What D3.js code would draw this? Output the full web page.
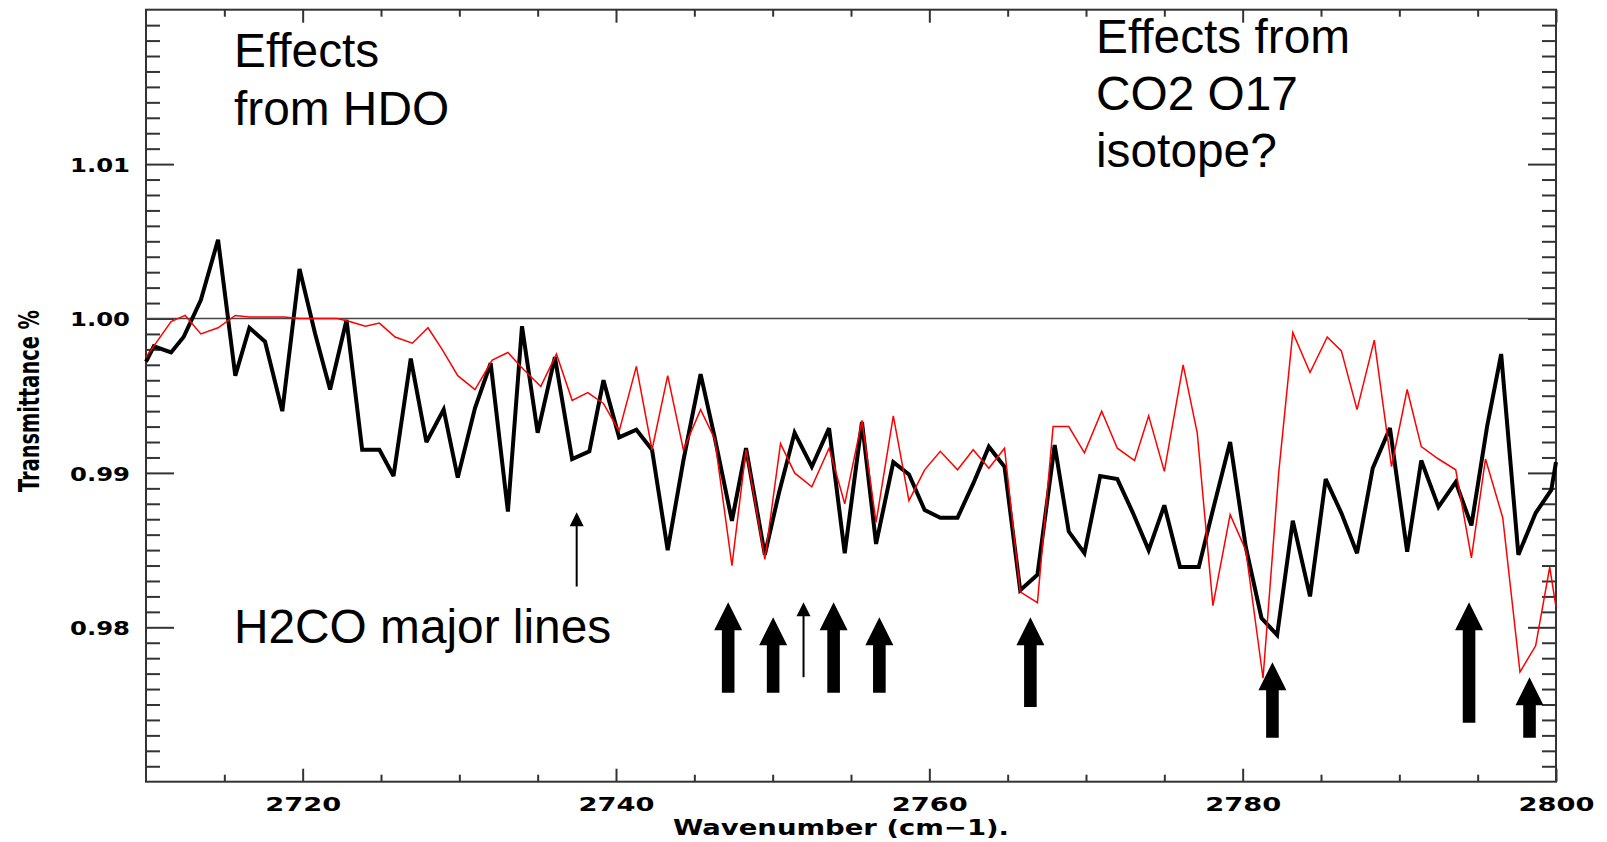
<!DOCTYPE html>
<html><head><meta charset="utf-8">
<script src="https://cdn.jsdelivr.net/npm/d3@7"></script>
<style>body{margin:0;background:#fff;} svg{display:block;}</style>
</head><body>
<svg id="chart" width="1607" height="842"></svg>
<script>
// ---------- data ----------
const wavenumberBlack = [2710.0,2710.5,2711.6,2712.4,2713.5,2714.6,2715.7,2716.6,2717.6,2718.7,2719.8,2720.8,2721.75,2722.8,2723.8,2724.9,2725.8,2726.9,2727.9,2729.0,2729.9,2731.0,2732.0,2733.1,2734.0,2735.0,2736.1,2737.2,2738.3,2739.2,2740.2,2741.3,2742.3,2743.3,2744.3,2745.4,2746.3,2747.4,2748.3,2749.5,2750.4,2751.4,2752.5,2753.6,2754.6,2755.7,2756.6,2757.7,2758.7,2759.7,2760.7,2761.8,2762.8,2763.8,2764.8,2765.8,2766.9,2768.0,2768.9,2769.9,2770.9,2772.0,2773.0,2774.0,2775.0,2776.0,2777.2,2778.1,2779.2,2780.2,2781.2,2782.2,2783.2,2784.3,2785.3,2786.3,2787.3,2788.3,2789.4,2790.5,2791.4,2792.5,2793.6,2794.6,2795.6,2796.5,2797.6,2798.7,2799.7,2800.0];
const transmittanceBlack = [0.9972,0.9982,0.9978,0.9988,1.0012,1.0051,0.9963,0.9994,0.9985,0.9940,1.0032,0.9990,0.9954,0.9999,0.9915,0.9915,0.9898,0.9974,0.9920,0.9941,0.9897,0.9942,0.9971,0.9875,0.9995,0.9926,0.9975,0.9909,0.9914,0.9960,0.9923,0.9928,0.9915,0.9850,0.9908,0.9964,0.9923,0.9869,0.9916,0.9847,0.9887,0.9926,0.9904,0.9929,0.9848,0.9933,0.9854,0.9907,0.9899,0.9876,0.9871,0.9871,0.9893,0.9917,0.9904,0.9824,0.9834,0.9918,0.9862,0.9848,0.9898,0.9896,0.9874,0.9850,0.9879,0.9839,0.9839,0.9876,0.9920,0.9852,0.9806,0.9795,0.9869,0.9820,0.9896,0.9874,0.9848,0.9903,0.9929,0.9849,0.9908,0.9878,0.9894,0.9866,0.9930,0.9977,0.9847,0.9874,0.9889,0.9907];
const wavenumberRed = [2710.0,2711.6,2712.5,2713.5,2714.6,2715.7,2716.6,2717.7,2718.8,2719.8,2720.8,2722.2,2723.0,2724.0,2724.9,2725.9,2727.0,2728.0,2728.9,2729.9,2731.0,2732.1,2733.1,2734.1,2735.2,2736.2,2737.2,2738.2,2739.2,2740.2,2741.3,2742.3,2743.3,2744.3,2745.4,2746.3,2747.4,2748.3,2749.5,2750.5,2751.4,2752.5,2753.6,2754.6,2755.7,2756.6,2757.7,2758.7,2759.7,2760.7,2761.8,2762.8,2763.8,2764.8,2765.8,2766.9,2767.9,2768.9,2769.9,2771.0,2772.0,2773.1,2774.0,2775.0,2776.2,2777.1,2778.1,2779.2,2780.2,2781.3,2782.3,2783.2,2784.3,2785.4,2786.3,2787.3,2788.4,2789.5,2790.5,2791.4,2792.5,2793.6,2794.6,2795.5,2796.6,2797.7,2798.7,2799.6,2800.0];
const transmittanceRed = [0.9975,0.9998,1.0002,0.9990,0.9994,1.0002,1.0001,1.0001,1.0001,1.0000,1.0000,1.0000,0.9998,0.9995,0.9997,0.9988,0.9984,0.9994,0.9980,0.9963,0.9954,0.9973,0.9978,0.9967,0.9956,0.9977,0.9947,0.9952,0.9945,0.9927,0.9969,0.9915,0.9963,0.9915,0.9941,0.9922,0.9840,0.9915,0.9844,0.9919,0.9900,0.9891,0.9916,0.9880,0.9934,0.9868,0.9937,0.9882,0.9902,0.9914,0.9902,0.9915,0.9903,0.9916,0.9823,0.9816,0.9930,0.9930,0.9913,0.9940,0.9916,0.9908,0.9937,0.9901,0.9970,0.9926,0.9814,0.9873,0.9850,0.9767,0.9900,0.9991,0.9965,0.9988,0.9979,0.9941,0.9986,0.9904,0.9954,0.9917,0.9909,0.9902,0.9845,0.9909,0.9871,0.9771,0.9788,0.9839,0.9813];
const xTickLabels = [2720, 2740, 2760, 2780, 2800];
const yTickLabels = [0.98, 0.99, 1.00, 1.01];
const referenceLevel = 1.00;
const xTitle = "Wavenumber (cm\u22121).";
const yTitle = "Transmittance %";
const hdoNote = ["Effects", "from HDO"];
const co2Note = ["Effects from", "CO2 O17", "isotope?"];
const h2coNote = "H2CO major lines";
// arrows (data units: wavenumber, tip transmittance, tail transmittance)
const thickArrowX    = [2747.16, 2750.03, 2753.89, 2756.81, 2766.45, 2781.90, 2794.45, 2798.31];
const thickArrowTip  = [0.98163, 0.98065, 0.98163, 0.98065, 0.98065, 0.97774, 0.98163, 0.97677];
const thickArrowTail = [0.97576, 0.97576, 0.97576, 0.97576, 0.97483, 0.97284, 0.97381, 0.97284];
const thinArrowX    = [2737.49, 2751.97];
const thinArrowTip  = [0.98745, 0.98163];
const thinArrowTail = [0.98264, 0.97677];

// ---------- layout ----------
const L = 146, R = 1556, T = 9.7, B = 781.7;
const x = d3.scaleLinear().domain([2710, 2800]).range([L, R]);
const y = d3.scaleLinear().domain([0.97, 1.02]).range([B, T]);
const svg = d3.select("#chart");
const axisColor = "#333";
const tickFont = "'DejaVu Sans', sans-serif";

const minorX = d3.range(2715, 2800, 5).filter(v => v % 20 !== 0);
const minorY = d3.range(971, 1020).filter(i => i % 10 !== 0).map(i => i / 1000);
const majorYAll = [0.98, 0.99, 1.00, 1.01];

function styleAxis(g) {
  g.select(".domain").remove();
  g.selectAll(".tick line").attr("stroke", axisColor).attr("stroke-width", 2);
}

// bottom axis
svg.append("g").attr("transform", `translate(0,${B})`)
  .call(d3.axisBottom(x).tickValues(minorX).tickSizeInner(-7).tickSizeOuter(0).tickFormat(""))
  .call(styleAxis);
const bx = svg.append("g").attr("transform", `translate(0,${B})`)
  .call(d3.axisBottom(x).tickValues(xTickLabels).tickSizeInner(-13).tickSizeOuter(0).tickFormat(d3.format("d")))
  .call(styleAxis);
bx.selectAll("text").attr("y", 29.3).attr("dy", null)
  .attr("font-family", tickFont).attr("font-weight", "bold").attr("font-size", 20)
  .attr("fill", "#000").attr("textLength", 76).attr("lengthAdjust", "spacingAndGlyphs");

// top axis
svg.append("g").attr("transform", `translate(0,${T})`)
  .call(d3.axisTop(x).tickValues(minorX).tickSizeInner(-7).tickSizeOuter(0).tickFormat(""))
  .call(styleAxis);
svg.append("g").attr("transform", `translate(0,${T})`)
  .call(d3.axisTop(x).tickValues(xTickLabels).tickSizeInner(-13).tickSizeOuter(0).tickFormat(""))
  .call(styleAxis);

// left axis
svg.append("g").attr("transform", `translate(${L},0)`)
  .call(d3.axisLeft(y).tickValues(minorY).tickSizeInner(-14).tickSizeOuter(0).tickFormat(""))
  .call(styleAxis);
const ly = svg.append("g").attr("transform", `translate(${L},0)`)
  .call(d3.axisLeft(y).tickValues(yTickLabels).tickSizeInner(-28).tickSizeOuter(0).tickFormat(d3.format(".2f")))
  .call(styleAxis);
ly.selectAll("text").attr("x", -16).attr("dy", "0.37em")
  .attr("font-family", tickFont).attr("font-weight", "bold").attr("font-size", 20)
  .attr("fill", "#000").attr("textLength", 60).attr("lengthAdjust", "spacingAndGlyphs");

// right axis
svg.append("g").attr("transform", `translate(${R},0)`)
  .call(d3.axisRight(y).tickValues(minorY).tickSizeInner(-14).tickSizeOuter(0).tickFormat(""))
  .call(styleAxis);
svg.append("g").attr("transform", `translate(${R},0)`)
  .call(d3.axisRight(y).tickValues(majorYAll).tickSizeInner(-28).tickSizeOuter(0).tickFormat(""))
  .call(styleAxis);

// frame
svg.append("rect").attr("x", L).attr("y", T).attr("width", R - L).attr("height", B - T)
  .attr("fill", "none").attr("stroke", axisColor).attr("stroke-width", 2);

// reference line at 1.00
svg.append("line").attr("x1", L).attr("x2", R).attr("y1", y(referenceLevel)).attr("y2", y(referenceLevel))
  .attr("stroke", "#444").attr("stroke-width", 1.6);

// axis titles
svg.append("text").attr("x", 841).attr("y", 835)
  .attr("text-anchor", "middle").attr("font-family", tickFont).attr("font-weight", "bold")
  .attr("font-size", 21).attr("textLength", 336).attr("lengthAdjust", "spacingAndGlyphs")
  .text(xTitle);
svg.append("text").attr("transform", "translate(39,401) rotate(-90)")
  .attr("text-anchor", "middle").attr("font-family", tickFont).attr("font-weight", "bold")
  .attr("font-size", 29).attr("textLength", 182).attr("lengthAdjust", "spacingAndGlyphs")
  .text(yTitle);

// series
const line = d3.line().x(d => x(d[0])).y(d => y(d[1]));
const blackPts = wavenumberBlack.map((w, i) => [w, transmittanceBlack[i]]);
const redPts = wavenumberRed.map((w, i) => [w, transmittanceRed[i]]);
svg.append("path").datum(blackPts).attr("d", line).attr("fill", "none")
  .attr("stroke", "#000").attr("stroke-width", 4).attr("stroke-linejoin", "miter").attr("stroke-miterlimit", 3);
svg.append("path").datum(redPts).attr("d", line).attr("fill", "none")
  .attr("stroke", "#ff0000").attr("stroke-width", 1.5).attr("stroke-linejoin", "miter");

// arrows
const headW = 14, headH = 28, shaftW = 6.3;
thickArrowX.forEach((w, i) => {
  const cx = x(w), ty = y(thickArrowTip[i]), by = y(thickArrowTail[i]);
  const pts = [[cx, ty], [cx + headW, ty + headH], [cx + shaftW, ty + headH], [cx + shaftW, by],
               [cx - shaftW, by], [cx - shaftW, ty + headH], [cx - headW, ty + headH]];
  svg.append("polygon").attr("points", pts.map(p => p.join(",")).join(" ")).attr("fill", "#000");
});
thinArrowX.forEach((w, i) => {
  const cx = x(w), ty = y(thinArrowTip[i]), by = y(thinArrowTail[i]);
  svg.append("line").attr("x1", cx).attr("x2", cx).attr("y1", ty + 10).attr("y2", by)
    .attr("stroke", "#000").attr("stroke-width", 2);
  const pts = [[cx, ty], [cx + 7, ty + 14], [cx - 7, ty + 14]];
  svg.append("polygon").attr("points", pts.map(p => p.join(",")).join(" ")).attr("fill", "#000");
});

// annotations
const noteFont = "'Liberation Sans', Arial, sans-serif";
function note(lines, x0, y0, dy) {
  lines.forEach((t, i) => {
    svg.append("text").attr("x", x0).attr("y", y0 + i * dy)
      .attr("font-family", noteFont).attr("font-size", 47.8).attr("fill", "#000").text(t);
  });
}
note(hdoNote, 234, 67, 57.5);
note(co2Note, 1096, 53, 57);
note([h2coNote], 234, 643, 0);
</script>
</body></html>
